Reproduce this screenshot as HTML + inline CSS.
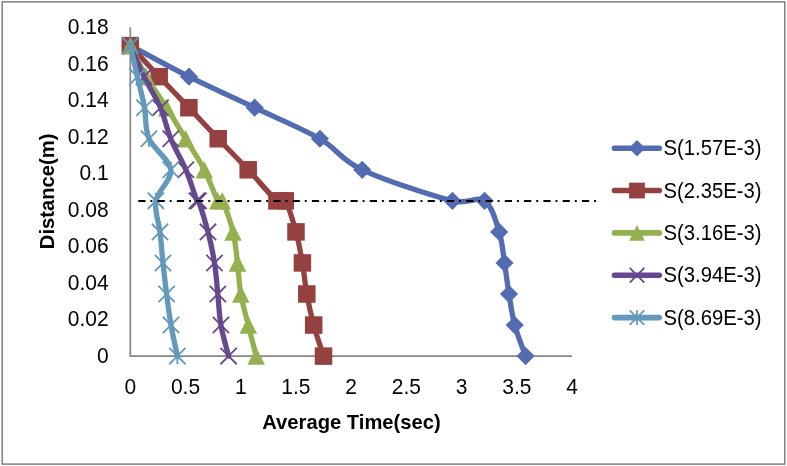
<!DOCTYPE html>
<html><head><meta charset="utf-8"><title>Chart</title>
<style>
html,body{margin:0;padding:0;background:#fff;}
body{width:787px;height:466px;overflow:hidden;}
svg{display:block;will-change:transform;}
text{font-family:"Liberation Sans",sans-serif;fill:#000;}
.tk{font-size:21px;}
.lg{font-size:20.3px;}
.tt{font-size:20.2px;font-weight:bold;}
</style></head><body>
<svg width="787" height="466" viewBox="0 0 787 466">
<rect x="0" y="0" width="787" height="466" fill="#fff"/>
<rect x="2.2" y="1.9" width="782.6" height="462.2" fill="#fff" stroke="#767676" stroke-width="1.4"/>
<path d="M130.30 27.30 L130.30 356.10 L572.00 356.10" fill="none" stroke="#868686" stroke-width="1.7"/>
<g>
<path d="M130.30 45.60 C140.08 50.78 168.27 66.30 189.00 76.65 C209.73 87.00 232.88 97.35 254.70 107.70 C276.52 118.05 301.98 128.40 319.90 138.75 C337.82 149.10 340.12 159.45 362.20 169.80 C384.28 180.15 432.00 195.68 452.40 200.85 C468.01 204.81 476.80 195.67 484.60 200.85 C492.40 206.03 495.88 221.55 499.20 231.90 C502.52 242.25 502.87 252.60 504.50 262.95 C506.13 273.30 507.30 283.65 509.00 294.00 C510.70 304.35 511.93 314.70 514.70 325.05 C517.47 335.40 523.78 350.93 525.60 356.10" fill="none" stroke="#536BB0" stroke-width="5.3" stroke-linecap="round" stroke-linejoin="round"/>
<path d="M130.30 36.50 L139.40 45.60 L130.30 54.70 L121.20 45.60 Z" fill="#536BB0"/>
<path d="M189.00 67.55 L198.10 76.65 L189.00 85.75 L179.90 76.65 Z" fill="#536BB0"/>
<path d="M254.70 98.60 L263.80 107.70 L254.70 116.80 L245.60 107.70 Z" fill="#536BB0"/>
<path d="M319.90 129.65 L329.00 138.75 L319.90 147.85 L310.80 138.75 Z" fill="#536BB0"/>
<path d="M362.20 160.70 L371.30 169.80 L362.20 178.90 L353.10 169.80 Z" fill="#536BB0"/>
<path d="M452.40 191.75 L461.50 200.85 L452.40 209.95 L443.30 200.85 Z" fill="#536BB0"/>
<path d="M484.60 191.75 L493.70 200.85 L484.60 209.95 L475.50 200.85 Z" fill="#536BB0"/>
<path d="M499.20 222.80 L508.30 231.90 L499.20 241.00 L490.10 231.90 Z" fill="#536BB0"/>
<path d="M504.50 253.85 L513.60 262.95 L504.50 272.05 L495.40 262.95 Z" fill="#536BB0"/>
<path d="M509.00 284.90 L518.10 294.00 L509.00 303.10 L499.90 294.00 Z" fill="#536BB0"/>
<path d="M514.70 315.95 L523.80 325.05 L514.70 334.15 L505.60 325.05 Z" fill="#536BB0"/>
<path d="M525.60 347.00 L534.70 356.10 L525.60 365.20 L516.50 356.10 Z" fill="#536BB0"/>
</g>
<g>
<path d="M130.30 45.60 C135.12 50.78 149.43 66.30 159.20 76.65 C168.97 87.00 179.07 97.35 188.90 107.70 C198.73 118.05 208.32 128.40 218.20 138.75 C228.08 149.10 238.42 159.45 248.20 169.80 C257.98 180.15 270.72 195.68 276.90 200.85 C280.12 203.55 283.10 197.27 285.30 200.85 C288.48 206.03 293.15 221.55 296.00 231.90 C298.85 242.25 300.60 252.60 302.40 262.95 C304.20 273.30 304.92 283.65 306.80 294.00 C308.68 304.35 310.92 314.70 313.70 325.05 C316.48 335.40 321.87 350.93 323.50 356.10" fill="none" stroke="#94413F" stroke-width="5.3" stroke-linecap="round" stroke-linejoin="round"/>
<rect x="121.55" y="36.85" width="17.50" height="17.50" fill="#94413F"/>
<rect x="150.45" y="67.90" width="17.50" height="17.50" fill="#94413F"/>
<rect x="180.15" y="98.95" width="17.50" height="17.50" fill="#94413F"/>
<rect x="209.45" y="130.00" width="17.50" height="17.50" fill="#94413F"/>
<rect x="239.45" y="161.05" width="17.50" height="17.50" fill="#94413F"/>
<rect x="268.15" y="192.10" width="17.50" height="17.50" fill="#94413F"/>
<rect x="276.55" y="192.10" width="17.50" height="17.50" fill="#94413F"/>
<rect x="287.25" y="223.15" width="17.50" height="17.50" fill="#94413F"/>
<rect x="293.65" y="254.20" width="17.50" height="17.50" fill="#94413F"/>
<rect x="298.05" y="285.25" width="17.50" height="17.50" fill="#94413F"/>
<rect x="304.95" y="316.30" width="17.50" height="17.50" fill="#94413F"/>
<rect x="314.75" y="347.35" width="17.50" height="17.50" fill="#94413F"/>
</g>
<g>
<path d="M130.30 45.60 C132.97 50.78 140.23 66.30 146.30 76.65 C152.37 87.00 160.15 97.35 166.70 107.70 C173.25 118.05 179.33 128.40 185.60 138.75 C191.87 149.10 198.93 159.45 204.30 169.80 C209.67 180.15 214.82 195.68 217.80 200.85 C218.90 202.76 221.23 198.87 222.20 200.85 C224.73 206.03 230.45 221.55 233.00 231.90 C235.55 242.25 236.20 252.60 237.50 262.95 C238.80 273.30 239.00 283.65 240.80 294.00 C242.60 304.35 245.73 314.70 248.30 325.05 C250.87 335.40 254.88 350.93 256.20 356.10" fill="none" stroke="#94B04F" stroke-width="5.3" stroke-linecap="round" stroke-linejoin="round"/>
<path d="M130.30 36.85 L139.05 54.35 L121.55 54.35 Z" fill="#94B04F"/>
<path d="M146.30 67.90 L155.05 85.40 L137.55 85.40 Z" fill="#94B04F"/>
<path d="M166.70 98.95 L175.45 116.45 L157.95 116.45 Z" fill="#94B04F"/>
<path d="M185.60 130.00 L194.35 147.50 L176.85 147.50 Z" fill="#94B04F"/>
<path d="M204.30 161.05 L213.05 178.55 L195.55 178.55 Z" fill="#94B04F"/>
<path d="M217.80 192.10 L226.55 209.60 L209.05 209.60 Z" fill="#94B04F"/>
<path d="M222.20 192.10 L230.95 209.60 L213.45 209.60 Z" fill="#94B04F"/>
<path d="M233.00 223.15 L241.75 240.65 L224.25 240.65 Z" fill="#94B04F"/>
<path d="M237.50 254.20 L246.25 271.70 L228.75 271.70 Z" fill="#94B04F"/>
<path d="M240.80 285.25 L249.55 302.75 L232.05 302.75 Z" fill="#94B04F"/>
<path d="M248.30 316.30 L257.05 333.80 L239.55 333.80 Z" fill="#94B04F"/>
<path d="M256.20 347.35 L264.95 364.85 L247.45 364.85 Z" fill="#94B04F"/>
</g>
<g>
<path d="M130.30 45.60 C132.58 50.78 138.97 66.30 144.00 76.65 C149.03 87.00 156.03 97.35 160.50 107.70 C164.97 118.05 166.57 128.40 170.80 138.75 C175.03 149.10 181.55 159.45 185.90 169.80 C190.25 180.15 194.80 195.68 196.90 200.85 C197.20 201.59 198.23 200.10 198.50 200.85 C200.35 206.03 205.33 221.55 208.00 231.90 C210.67 242.25 212.87 252.60 214.50 262.95 C216.13 273.30 216.73 283.65 217.80 294.00 C218.87 304.35 219.10 314.70 220.90 325.05 C222.70 335.40 227.32 350.93 228.60 356.10" fill="none" stroke="#65488D" stroke-width="5.3" stroke-linecap="round" stroke-linejoin="round"/>
<path d="M122.15 37.45 L138.45 53.75 M122.15 53.75 L138.45 37.45" stroke="#65488D" stroke-width="1.8" fill="none"/>
<path d="M135.85 68.50 L152.15 84.80 M135.85 84.80 L152.15 68.50" stroke="#65488D" stroke-width="1.8" fill="none"/>
<path d="M152.35 99.55 L168.65 115.85 M152.35 115.85 L168.65 99.55" stroke="#65488D" stroke-width="1.8" fill="none"/>
<path d="M162.65 130.60 L178.95 146.90 M162.65 146.90 L178.95 130.60" stroke="#65488D" stroke-width="1.8" fill="none"/>
<path d="M177.75 161.65 L194.05 177.95 M177.75 177.95 L194.05 161.65" stroke="#65488D" stroke-width="1.8" fill="none"/>
<path d="M188.75 192.70 L205.05 209.00 M188.75 209.00 L205.05 192.70" stroke="#65488D" stroke-width="1.8" fill="none"/>
<path d="M190.35 192.70 L206.65 209.00 M190.35 209.00 L206.65 192.70" stroke="#65488D" stroke-width="1.8" fill="none"/>
<path d="M199.85 223.75 L216.15 240.05 M199.85 240.05 L216.15 223.75" stroke="#65488D" stroke-width="1.8" fill="none"/>
<path d="M206.35 254.80 L222.65 271.10 M206.35 271.10 L222.65 254.80" stroke="#65488D" stroke-width="1.8" fill="none"/>
<path d="M209.65 285.85 L225.95 302.15 M209.65 302.15 L225.95 285.85" stroke="#65488D" stroke-width="1.8" fill="none"/>
<path d="M212.75 316.90 L229.05 333.20 M212.75 333.20 L229.05 316.90" stroke="#65488D" stroke-width="1.8" fill="none"/>
<path d="M220.45 347.95 L236.75 364.25 M220.45 364.25 L236.75 347.95" stroke="#65488D" stroke-width="1.8" fill="none"/>
</g>
<g>
<path d="M130.30 45.60 C131.48 50.78 135.03 66.30 137.40 76.65 C139.77 87.00 142.57 97.35 144.50 107.70 C146.43 118.05 144.62 128.40 149.00 138.75 C153.38 149.10 169.65 159.45 170.80 169.80 C171.95 180.15 157.70 190.50 155.90 200.85 C154.10 211.20 158.82 221.55 160.00 231.90 C161.18 242.25 161.90 252.60 163.00 262.95 C164.10 273.30 165.27 283.65 166.60 294.00 C167.93 304.35 169.20 314.70 171.00 325.05 C172.80 335.40 176.33 350.93 177.40 356.10" fill="none" stroke="#6399BA" stroke-width="5.3" stroke-linecap="round" stroke-linejoin="round"/>
<path d="M122.15 37.45 L138.45 53.75 M122.15 53.75 L138.45 37.45 M130.30 37.45 L130.30 53.75" stroke="#6399BA" stroke-width="1.8" fill="none"/>
<path d="M129.25 68.50 L145.55 84.80 M129.25 84.80 L145.55 68.50 M137.40 68.50 L137.40 84.80" stroke="#6399BA" stroke-width="1.8" fill="none"/>
<path d="M136.35 99.55 L152.65 115.85 M136.35 115.85 L152.65 99.55 M144.50 99.55 L144.50 115.85" stroke="#6399BA" stroke-width="1.8" fill="none"/>
<path d="M140.85 130.60 L157.15 146.90 M140.85 146.90 L157.15 130.60 M149.00 130.60 L149.00 146.90" stroke="#6399BA" stroke-width="1.8" fill="none"/>
<path d="M162.65 161.65 L178.95 177.95 M162.65 177.95 L178.95 161.65 M170.80 161.65 L170.80 177.95" stroke="#6399BA" stroke-width="1.8" fill="none"/>
<path d="M147.75 192.70 L164.05 209.00 M147.75 209.00 L164.05 192.70 M155.90 192.70 L155.90 209.00" stroke="#6399BA" stroke-width="1.8" fill="none"/>
<path d="M151.85 223.75 L168.15 240.05 M151.85 240.05 L168.15 223.75 M160.00 223.75 L160.00 240.05" stroke="#6399BA" stroke-width="1.8" fill="none"/>
<path d="M154.85 254.80 L171.15 271.10 M154.85 271.10 L171.15 254.80 M163.00 254.80 L163.00 271.10" stroke="#6399BA" stroke-width="1.8" fill="none"/>
<path d="M158.45 285.85 L174.75 302.15 M158.45 302.15 L174.75 285.85 M166.60 285.85 L166.60 302.15" stroke="#6399BA" stroke-width="1.8" fill="none"/>
<path d="M162.85 316.90 L179.15 333.20 M162.85 333.20 L179.15 316.90 M171.00 316.90 L171.00 333.20" stroke="#6399BA" stroke-width="1.8" fill="none"/>
<path d="M169.25 347.95 L185.55 364.25 M169.25 364.25 L185.55 347.95 M177.40 347.95 L177.40 364.25" stroke="#6399BA" stroke-width="1.8" fill="none"/>
</g>
<path d="M138.3 201 L596.3 201" stroke="#000" stroke-width="1.8" stroke-dasharray="7.2 4.95 1.9 5.24" fill="none"/>
<path d="M614.5 148.20 L659.3 148.20" stroke="#536BB0" stroke-width="5.6" stroke-linecap="round"/>
<path d="M637.00 139.98 L645.22 148.20 L637.00 156.42 L628.78 148.20 Z" fill="#536BB0"/>
<text transform="translate(663.5 155.20) scale(1 1.045)" class="lg">S(1.57E-3)</text>
<path d="M614.5 190.55 L659.3 190.55" stroke="#94413F" stroke-width="5.6" stroke-linecap="round"/>
<rect x="629.10" y="182.65" width="15.80" height="15.80" fill="#94413F"/>
<text transform="translate(663.5 197.55) scale(1 1.045)" class="lg">S(2.35E-3)</text>
<path d="M614.5 232.90 L659.3 232.90" stroke="#94B04F" stroke-width="5.6" stroke-linecap="round"/>
<path d="M637.00 225.00 L644.90 240.80 L629.10 240.80 Z" fill="#94B04F"/>
<text transform="translate(663.5 239.90) scale(1 1.045)" class="lg">S(3.16E-3)</text>
<path d="M614.5 275.25 L659.3 275.25" stroke="#65488D" stroke-width="5.6" stroke-linecap="round"/>
<path d="M629.70 267.95 L644.30 282.55 M629.70 282.55 L644.30 267.95" stroke="#65488D" stroke-width="1.8" fill="none"/>
<text transform="translate(663.5 282.25) scale(1 1.045)" class="lg">S(3.94E-3)</text>
<path d="M614.5 317.60 L659.3 317.60" stroke="#6399BA" stroke-width="5.6" stroke-linecap="round"/>
<path d="M629.70 310.30 L644.30 324.90 M629.70 324.90 L644.30 310.30 M637.00 310.30 L637.00 324.90" stroke="#6399BA" stroke-width="1.8" fill="none"/>
<text transform="translate(663.5 324.60) scale(1 1.045)" class="lg">S(8.69E-3)</text>
<text transform="translate(108.6 363.00) scale(1 1.04)" text-anchor="end" class="tk">0</text>
<text transform="translate(108.6 326.47) scale(1 1.04)" text-anchor="end" class="tk">0.02</text>
<text transform="translate(108.6 289.93) scale(1 1.04)" text-anchor="end" class="tk">0.04</text>
<text transform="translate(108.6 253.40) scale(1 1.04)" text-anchor="end" class="tk">0.06</text>
<text transform="translate(108.6 216.87) scale(1 1.04)" text-anchor="end" class="tk">0.08</text>
<text transform="translate(108.6 180.33) scale(1 1.04)" text-anchor="end" class="tk">0.1</text>
<text transform="translate(108.6 143.80) scale(1 1.04)" text-anchor="end" class="tk">0.12</text>
<text transform="translate(108.6 107.27) scale(1 1.04)" text-anchor="end" class="tk">0.14</text>
<text transform="translate(108.6 70.73) scale(1 1.04)" text-anchor="end" class="tk">0.16</text>
<text transform="translate(108.6 34.20) scale(1 1.04)" text-anchor="end" class="tk">0.18</text>
<text transform="translate(130.30 394.1) scale(1 1.04)" text-anchor="middle" class="tk">0</text>
<text transform="translate(185.51 394.1) scale(1 1.04)" text-anchor="middle" class="tk">0.5</text>
<text transform="translate(240.73 394.1) scale(1 1.04)" text-anchor="middle" class="tk">1</text>
<text transform="translate(295.94 394.1) scale(1 1.04)" text-anchor="middle" class="tk">1.5</text>
<text transform="translate(351.15 394.1) scale(1 1.04)" text-anchor="middle" class="tk">2</text>
<text transform="translate(406.36 394.1) scale(1 1.04)" text-anchor="middle" class="tk">2.5</text>
<text transform="translate(461.57 394.1) scale(1 1.04)" text-anchor="middle" class="tk">3</text>
<text transform="translate(516.79 394.1) scale(1 1.04)" text-anchor="middle" class="tk">3.5</text>
<text transform="translate(572.00 394.1) scale(1 1.04)" text-anchor="middle" class="tk">4</text>
<text x="351.5" y="428.7" text-anchor="middle" class="tt">Average Time(sec)</text>
<text transform="translate(54 191.4) rotate(-90)" text-anchor="middle" class="tt">Distance(m)</text>
</svg>
</body></html>
